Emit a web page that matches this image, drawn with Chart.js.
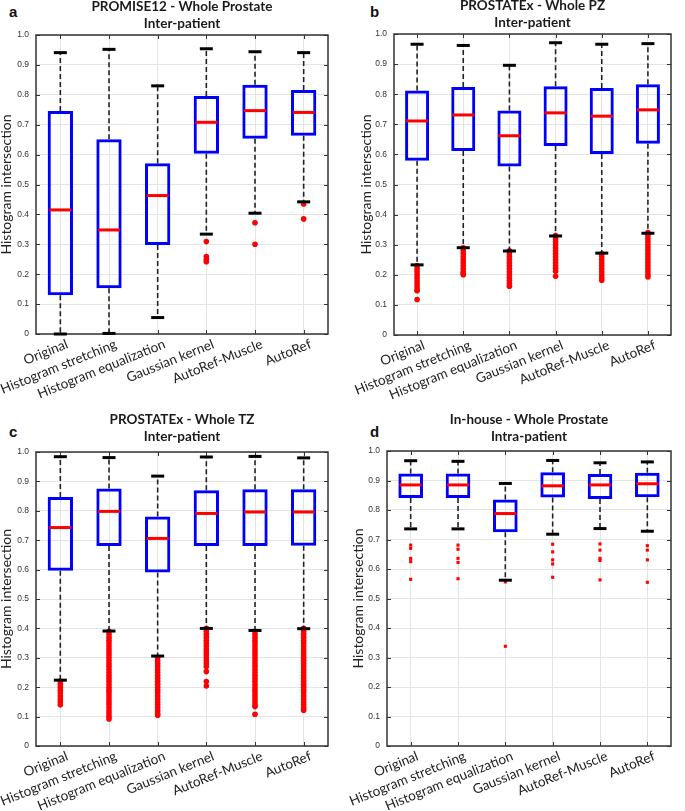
<!DOCTYPE html>
<html>
<head>
<meta charset="utf-8">
<script src="https://cdn.jsdelivr.net/npm/chart.js@4.4.0/dist/chart.umd.min.js"></script>
<style>
body { margin: 0; background: #fff; width: 685px; height: 811px; position: relative; overflow: hidden; }
canvas { position: absolute; }
.letra { position: absolute; font: bold 15px "Liberation Sans", Arial, sans-serif; line-height: 15px; color: #111; }
</style>
</head>
<body>
<div class="letra" style="left:9px;top:4px">a</div>
<div class="letra" style="left:370px;top:4px">b</div>
<div class="letra" style="left:9px;top:424px">c</div>
<div class="letra" style="left:370px;top:424px">d</div>
<canvas id="graficoA" width="342" height="405" style="left:0;top:0"></canvas>
<canvas id="graficoB" width="343" height="405" style="left:342px;top:0"></canvas>
<canvas id="graficoC" width="342" height="406" style="left:0;top:405px"></canvas>
<canvas id="graficoD" width="343" height="406" style="left:342px;top:405px"></canvas>
<script>
const categorias = ['Original', 'Histogram stretching', 'Histogram equalization', 'Gaussian kernel', 'AutoRef-Muscle', 'AutoRef'];

// a - PROMISE12
const aQ1 = [0.130, 0.153, 0.298, 0.603, 0.653, 0.663];
const aMediana = [0.415, 0.348, 0.463, 0.708, 0.747, 0.741];
const aQ3 = [0.746, 0.651, 0.571, 0.796, 0.834, 0.816];
const aMin = [0.000, 0.002, 0.055, 0.334, 0.404, 0.442];
const aMax = [0.941, 0.952, 0.830, 0.954, 0.944, 0.941];
const aOutliers = [[], [], [], [0.309, 0.259, 0.250, 0.242], [0.372, 0.300], [0.435, 0.385]];

// b - PROSTATEx PZ
const bQ1 = [0.579, 0.611, 0.560, 0.628, 0.601, 0.635];
const bMediana = [0.711, 0.731, 0.662, 0.738, 0.727, 0.748];
const bQ3 = [0.812, 0.824, 0.746, 0.826, 0.821, 0.833];
const bMin = [0.233, 0.290, 0.279, 0.329, 0.272, 0.338];
const bMax = [0.966, 0.962, 0.896, 0.971, 0.966, 0.968];
const bOutliers = [
    [0.23, 0.22, 0.21, 0.20, 0.19, 0.18, 0.17, 0.16, 0.15, 0.147, 0.118],
    [0.29, 0.28, 0.27, 0.26, 0.25, 0.24, 0.23, 0.22, 0.21, 0.205, 0.200],
    [0.28, 0.27, 0.26, 0.25, 0.24, 0.23, 0.22, 0.21, 0.20, 0.19, 0.18, 0.17, 0.162],
    [0.33, 0.32, 0.31, 0.30, 0.29, 0.28, 0.27, 0.26, 0.25, 0.24, 0.23, 0.222, 0.212, 0.195],
    [0.27, 0.26, 0.25, 0.24, 0.23, 0.22, 0.21, 0.20, 0.19, 0.182],
    [0.34, 0.33, 0.32, 0.31, 0.30, 0.29, 0.28, 0.27, 0.26, 0.25, 0.24, 0.23, 0.22, 0.21, 0.20, 0.193]
];

// c - PROSTATEx TZ
const cQ1 = [0.596, 0.680, 0.590, 0.680, 0.680, 0.681];
const cMediana = [0.743, 0.798, 0.706, 0.791, 0.796, 0.796];
const cQ3 = [0.847, 0.876, 0.781, 0.870, 0.873, 0.873];
const cMin = [0.224, 0.391, 0.306, 0.400, 0.393, 0.399];
const cMax = [0.984, 0.981, 0.918, 0.983, 0.985, 0.980];
const cOutliers = [
    [0.22, 0.21, 0.20, 0.19, 0.18, 0.17, 0.16, 0.15, 0.14],
    [0.39, 0.38, 0.37, 0.36, 0.35, 0.34, 0.33, 0.32, 0.31, 0.30, 0.29, 0.28, 0.27, 0.26, 0.25, 0.24, 0.23, 0.22, 0.21, 0.20, 0.19, 0.18, 0.17, 0.16, 0.15, 0.14, 0.13, 0.12, 0.11, 0.10, 0.092],
    [0.30, 0.29, 0.28, 0.27, 0.26, 0.25, 0.24, 0.23, 0.22, 0.21, 0.20, 0.19, 0.18, 0.17, 0.16, 0.15, 0.14, 0.13, 0.12, 0.11, 0.105],
    [0.40, 0.39, 0.38, 0.37, 0.36, 0.35, 0.34, 0.33, 0.32, 0.31, 0.30, 0.29, 0.28, 0.27, 0.253, 0.219, 0.204],
    [0.39, 0.38, 0.37, 0.36, 0.35, 0.34, 0.33, 0.32, 0.31, 0.30, 0.29, 0.28, 0.27, 0.26, 0.25, 0.24, 0.23, 0.22, 0.21, 0.20, 0.19, 0.18, 0.17, 0.16, 0.15, 0.14, 0.134, 0.108],
    [0.40, 0.39, 0.38, 0.37, 0.36, 0.35, 0.34, 0.33, 0.32, 0.31, 0.30, 0.29, 0.28, 0.27, 0.26, 0.25, 0.24, 0.23, 0.22, 0.21, 0.20, 0.19, 0.18, 0.17, 0.16, 0.15, 0.14, 0.13, 0.122]
];

// d - In-house
const dQ1 = [0.841, 0.841, 0.725, 0.842, 0.837, 0.843];
const dMediana = [0.885, 0.885, 0.788, 0.882, 0.885, 0.889];
const dQ3 = [0.924, 0.924, 0.836, 0.928, 0.922, 0.926];
const dMin = [0.736, 0.736, 0.562, 0.718, 0.737, 0.728];
const dMax = [0.967, 0.965, 0.890, 0.968, 0.960, 0.963];
const dOutliers = [
    [0.681, 0.670, 0.636, 0.625, 0.565],
    [0.681, 0.667, 0.636, 0.622, 0.567],
    [0.556, 0.338],
    [0.684, 0.658, 0.631, 0.617, 0.572],
    [0.685, 0.664, 0.636, 0.629, 0.563],
    [0.679, 0.664, 0.631, 0.555]
];

// moldura e tracinhos internos estilo matlab
const moldura = {
    id: 'moldura',
    beforeDatasetsDraw(chart) {
        const ctx = chart.ctx;
        const area = chart.chartArea;
        const sx = chart.scales.x;
        const sy = chart.scales.y;
        ctx.save();
        ctx.strokeStyle = '#333';
        ctx.lineWidth = 1;
        ctx.beginPath();
        sy.ticks.forEach(function (t) {
            const py = Math.round(sy.getPixelForValue(t.value)) + 0.5;
            ctx.moveTo(area.left, py); ctx.lineTo(area.left + 4, py);
            ctx.moveTo(area.right, py); ctx.lineTo(area.right - 4, py);
        });
        for (let i = 0; i < categorias.length; i++) {
            const px = Math.round(sx.getPixelForValue(i)) + 0.5;
            ctx.moveTo(px, area.bottom); ctx.lineTo(px, area.bottom - 4);
            ctx.moveTo(px, area.top); ctx.lineTo(px, area.top + 4);
        }
        ctx.stroke();
        ctx.lineWidth = 1.5;
        ctx.strokeRect(area.left, area.top, area.right - area.left, area.bottom - area.top);
        ctx.restore();
    }
};

function desenharPainel(id, titulo, q1, mediana, q3, minimo, maximo, outliers, layout) {
    const bigodes = [];
    const caps = [];
    const pontos = [];
    for (let i = 0; i < categorias.length; i++) {
        const c = categorias[i];
        bigodes.push({ x: c, y: q3[i] }, { x: c, y: maximo[i] }, { x: c, y: null });
        bigodes.push({ x: c, y: q1[i] }, { x: c, y: minimo[i] }, { x: c, y: null });
        caps.push({ x: c, y: maximo[i] }, { x: c, y: minimo[i] });
        for (let j = 0; j < outliers[i].length; j++) {
            pontos.push({ x: c, y: outliers[i][j] });
        }
    }

    const canvas = document.getElementById(id);
    const W = canvas.width;
    const H = canvas.height;

    new Chart(canvas, {
        type: 'bar',
        data: {
            labels: categorias,
            datasets: [
                {
                    type: 'line',
                    data: mediana,
                    showLine: false,
                    pointStyle: 'line',
                    pointRadius: 11,
                    pointBorderWidth: 3,
                    pointBorderColor: '#ff0000',
                    order: 0
                },
                {
                    type: 'bar',
                    data: q1.map(function (v, i) { return [v, q3[i]]; }),
                    backgroundColor: 'rgba(255,255,255,0)',
                    borderColor: '#0000ff',
                    borderWidth: 3,
                    borderSkipped: false,
                    barPercentage: 0.52,
                    categoryPercentage: 1,
                    order: 1
                },
                {
                    type: 'line',
                    data: caps,
                    showLine: false,
                    pointStyle: 'line',
                    pointRadius: 6.5,
                    pointBorderWidth: 3,
                    pointBorderColor: '#000',
                    clip: false,
                    order: 2
                },
                {
                    type: 'line',
                    data: bigodes,
                    borderColor: '#222',
                    borderWidth: 1.6,
                    borderDash: [5, 3],
                    pointRadius: 0,
                    spanGaps: false,
                    order: 3
                },
                {
                    type: 'line',
                    data: pontos,
                    showLine: false,
                    pointStyle: layout.marcador,
                    pointRadius: layout.raio,
                    pointBackgroundColor: '#ff0000',
                    pointBorderWidth: 0,
                    clip: false,
                    order: 4
                }
            ]
        },
        options: {
            responsive: false,
            animation: false,
            events: [],
            layout: {
                padding: { left: layout.padL, right: W - layout.right, top: 0, bottom: 0 }
            },
            plugins: {
                legend: { display: false },
                tooltip: { enabled: false },
                title: {
                    display: true,
                    text: titulo,
                    fullSize: false,
                    color: '#1a1a1a',
                    font: { family: 'Lato', size: 13.5, weight: 'bold', lineHeight: 1.25 },
                    padding: { top: layout.tTop, bottom: layout.top - layout.tTop - 33.75 }
                }
            },
            scales: {
                x: {
                    type: 'category',
                    offset: true,
                    afterFit: function (s) { s.height = H - layout.bottom; },
                    grid: { offset: false, color: '#e4e4e4', drawTicks: false },
                    border: { display: false },
                    ticks: {
                        autoSkip: false,
                        minRotation: 22,
                        maxRotation: 22,
                        padding: 2,
                        labelOffset: 7,
                        color: '#222',
                        font: { family: 'Lato', size: 13.5 }
                    }
                },
                y: {
                    min: 0,
                    max: 1,
                    afterFit: function (s) { s.width = layout.left - layout.padL; },
                    grid: { color: '#e4e4e4', drawTicks: false },
                    border: { display: false },
                    ticks: {
                        stepSize: 0.1,
                        padding: 7,
                        color: '#333',
                        font: { family: 'Liberation Sans', size: 8.5 }
                    },
                    title: {
                        display: true,
                        text: 'Histogram intersection',
                        color: '#222',
                        font: { family: 'Lato', size: 14 },
                        padding: { top: layout.yTitlePad, bottom: 0 }
                    }
                }
            }
        },
        plugins: [moldura]
    });
}

desenharPainel('graficoA', ['PROMISE12 - Whole Prostate', 'Inter-patient'],
    aQ1, aMediana, aQ3, aMin, aMax, aOutliers,
    { padL: 0, left: 36, right: 332, top: 35, bottom: 334, tTop: -1.5, yTitlePad: -2, marcador: 'circle', raio: 2.8 });

desenharPainel('graficoB', ['PROSTATEx - Whole PZ', 'Inter-patient'],
    bQ1, bMediana, bQ3, bMin, bMax, bOutliers,
    { padL: 16, left: 52, right: 335, top: 34, bottom: 335, tTop: -2.5, yTitlePad: 0, marcador: 'circle', raio: 2.8 });

desenharPainel('graficoC', ['PROSTATEx - Whole TZ', 'Inter-patient'],
    cQ1, cMediana, cQ3, cMin, cMax, cOutliers,
    { padL: 0, left: 36, right: 329, top: 47, bottom: 341, tTop: 6, yTitlePad: -2, marcador: 'circle', raio: 2.8 });

desenharPainel('graficoD', ['In-house - Whole Prostate', 'Intra-patient'],
    dQ1, dMediana, dQ3, dMin, dMax, dOutliers,
    { padL: 8, left: 45, right: 342, top: 46, bottom: 341, tTop: 6, yTitlePad: 0, marcador: 'rect', raio: 2.2 });
</script>
</body>
</html>
